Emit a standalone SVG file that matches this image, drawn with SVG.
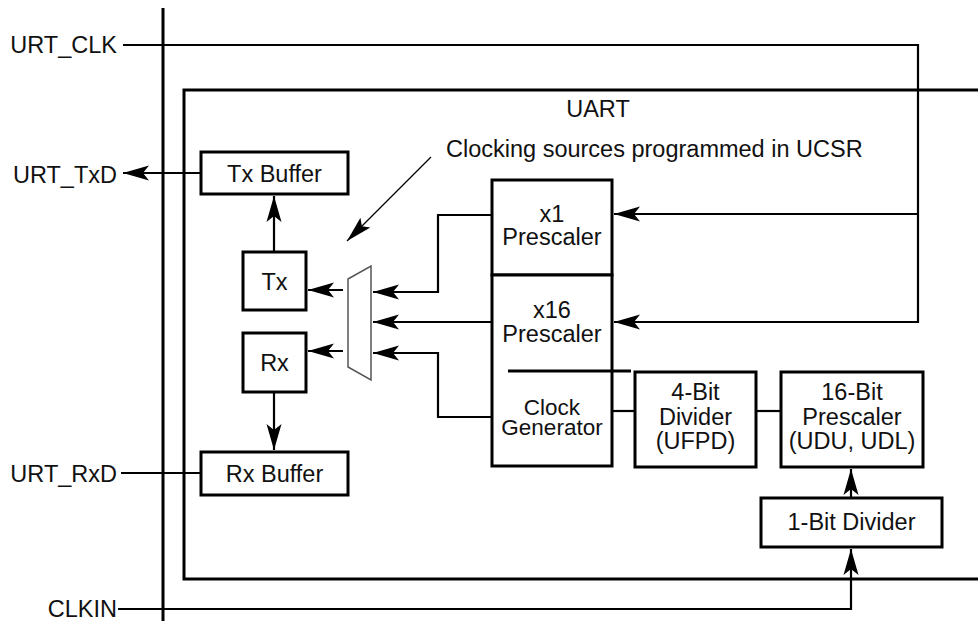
<svg xmlns="http://www.w3.org/2000/svg" width="978" height="621" viewBox="0 0 978 621">
<style>
text{font-family:"Liberation Sans",Arial,Helvetica,sans-serif;font-size:23.5px;fill:#111}
.c{text-anchor:middle}
.e{text-anchor:end}
.sm{font-size:22.5px}
.box{fill:#fff;stroke:#000;stroke-width:3}
.w{fill:none;stroke:#000;stroke-width:2.2}
.thick{fill:none;stroke:#000;stroke-width:3}
</style>
<defs>
<marker id="ah" markerUnits="userSpaceOnUse" markerWidth="30" markerHeight="20" refX="26" refY="8" orient="auto" overflow="visible">
<path d="M0,0.5 L26,8 L0,15.5 L6,8 Z" fill="#000"/>
</marker>
<marker id="ah2" markerUnits="userSpaceOnUse" markerWidth="30" markerHeight="20" refX="26" refY="8" orient="auto" overflow="visible">
<path d="M0,1 L26,8 L0,15 L5,8 Z" fill="#000"/>
</marker>
</defs>
<rect width="978" height="621" fill="#fff"/>

<g id="bus">
<line x1="163" y1="8" x2="163" y2="621" class="thick"/>
</g>

<g id="uart">
<path d="M978,90 H184 V579 H978" class="thick"/>
<text x="598" y="117" class="c">UART</text>
</g>

<g id="connectors">
<path d="M123,45 H918 V322 H614" class="w" marker-end="url(#ah)"/>
<path d="M918,214 H614" class="w" marker-end="url(#ah)"/>
<path d="M201,173 H123" class="w" marker-end="url(#ah)"/>
<path d="M274,252 V196" class="w" marker-end="url(#ah)"/>
<path d="M274,392 V450" class="w" marker-end="url(#ah)"/>
<path d="M121,473 H201" class="w"/>
<path d="M343,290 H308" class="w" marker-end="url(#ah)"/>
<path d="M343,351 H308" class="w" marker-end="url(#ah)"/>
<path d="M492,215 H438 V292 H373" class="w" marker-end="url(#ah)"/>
<path d="M492,322 H373" class="w" marker-end="url(#ah)"/>
<path d="M492,417 H438 V353 H373" class="w" marker-end="url(#ah)"/>
<path d="M612,411 H635" class="w"/>
<path d="M756,411 H781" class="w"/>
<path d="M851,498 V469" class="w" marker-end="url(#ah)"/>
<path d="M118,609 H851 V549" class="w" marker-end="url(#ah)"/>
<path d="M431,157 L347,241" fill="none" stroke="#000" stroke-width="1.2" marker-end="url(#ah2)"/>
</g>

<g id="labels">
<text x="117" y="53" class="e">URT_CLK</text>
<text x="117" y="183" class="e">URT_TxD</text>
<text x="117" y="482" class="e">URT_RxD</text>
<text x="117" y="617" class="e">CLKIN</text>
<text x="446" y="157">Clocking sources programmed in UCSR</text>
</g>

<g id="tx-buffer">
<rect x="201" y="152" width="147" height="42" class="box"/>
<text x="274.5" y="182" class="c">Tx Buffer</text>
</g>
<g id="tx">
<rect x="243" y="252" width="63" height="58" class="box"/>
<text x="274.5" y="290" class="c">Tx</text>
</g>
<g id="rx">
<rect x="243" y="333" width="63" height="59" class="box"/>
<text x="274.5" y="371" class="c">Rx</text>
</g>
<g id="rx-buffer">
<rect x="201" y="452" width="147" height="43" class="box"/>
<text x="274.5" y="482" class="c">Rx Buffer</text>
</g>
<g id="mux">
<polygon points="348,279 371,266 371,380 348,367" fill="#fff" stroke="#555" stroke-width="1.5"/>
</g>
<g id="x1-prescaler">
<rect x="492" y="180" width="120" height="95" class="box"/>
<text x="552" y="222" class="c">x1</text>
<text x="552" y="245" class="c">Prescaler</text>
</g>
<g id="x16-prescaler">
<rect x="492" y="275" width="120" height="191" class="box"/>
<text x="552" y="318" class="c">x16</text>
<text x="552" y="342" class="c">Prescaler</text>
</g>
<g id="clock-generator">
<line x1="508" y1="371" x2="631" y2="371" stroke="#000" stroke-width="3"/>
<text x="552" y="415" class="c sm">Clock</text>
<text x="552" y="435" class="c sm">Generator</text>
</g>
<g id="divider-4bit">
<rect x="635" y="372" width="121" height="95" class="box"/>
<text x="695.5" y="400" class="c">4-Bit</text>
<text x="695.5" y="425" class="c">Divider</text>
<text x="695.5" y="449" class="c">(UFPD)</text>
</g>
<g id="prescaler-16bit">
<rect x="781" y="372" width="142" height="95" class="box"/>
<text x="852" y="400" class="c">16-Bit</text>
<text x="852" y="425" class="c">Prescaler</text>
<text x="852" y="449" class="c">(UDU, UDL)</text>
</g>
<g id="divider-1bit">
<rect x="761" y="498" width="181" height="49" class="box"/>
<text x="851.5" y="530" class="c">1-Bit Divider</text>
</g>
</svg>
